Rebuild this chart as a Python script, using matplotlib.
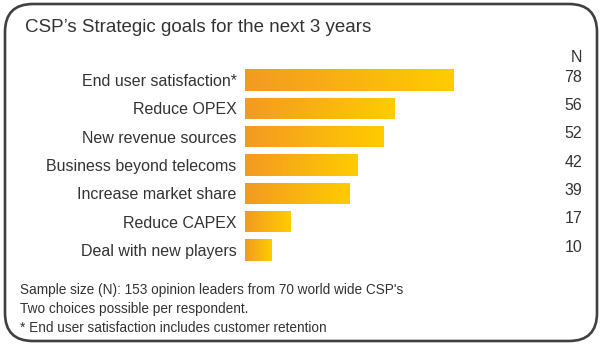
import matplotlib
matplotlib.use("Agg")
import matplotlib.pyplot as plt
import numpy as np
from matplotlib.colors import LinearSegmentedColormap
from matplotlib.patches import FancyBboxPatch
import matplotlib.transforms as mtransforms

goals = ["End user satisfaction*", "Reduce OPEX", "New revenue sources",
         "Business beyond telecoms", "Increase market share", "Reduce CAPEX",
         "Deal with new players"]
counts = [78, 56, 52, 42, 39, 17, 10]
notes = ["Sample size (N): 153 opinion leaders from 70 world wide CSP's",
         "Two choices possible per respondent.",
         "* End user satisfaction includes customer retention"]
title = "CSP\u2019s Strategic goals for the next 3 years"

plt.rcParams["font.family"] = ["Liberation Sans", "DejaVu Sans"]
txt_color = "#333333"

W, H = 601, 345
fig = plt.figure(figsize=(W / 100, H / 100), dpi=100)

# axes placed in pixel terms: x 0..100 -> 245..511.7 px, rows 28.33 px apart
row = 28.33
top_px = 80 - row / 2
bot_px = top_px + row * len(goals)
ax = fig.add_axes([245 / W, 1 - bot_px / H, 266.7 / W, (bot_px - top_px) / H])

cmap = LinearSegmentedColormap.from_list("orng", ["#F39A22", "#FFCC00"])
grad = np.linspace(0, 1, 256).reshape(1, -1)
ypos = np.arange(len(goals))
bars = ax.barh(ypos, counts, height=0.76, color="none", edgecolor="none")
for b in bars:
    x0, y0 = b.get_x(), b.get_y()
    im = ax.imshow(grad, cmap=cmap, aspect="auto", interpolation="bicubic",
                   extent=[x0, x0 + b.get_width(), y0 + b.get_height(), y0])
    im.set_clip_path(b)
ax.set_xlim(0, 100)
ax.set_ylim(len(goals) - 0.5, -0.5)

ax.set_yticks(ypos)
ax.set_yticklabels(goals, fontsize=11.5, color=txt_color)
ax.tick_params(axis="y", length=0, pad=6)
ax.set_xticks([])
for s in ax.spines.values():
    s.set_visible(False)

# N column on the right
tr = mtransforms.blended_transform_factory(fig.transFigure, ax.transData)
for y, c in zip(ypos, counts):
    ax.text(582 / W, y - 0.1, str(c), transform=tr, ha="right", va="center",
            fontsize=11.5, color=txt_color)
fig.text(582 / W, 1 - 58 / H, "N", ha="right", va="center", fontsize=11.5,
         color=txt_color)

fig.text(25 / W, 1 - 28 / H, title, ha="left", va="center", fontsize=13.5,
         color=txt_color)
for i, line in enumerate(notes):
    fig.text(20 / W, 1 - (290 + 19 * i) / H, line, ha="left", va="center",
             fontsize=9.8, color=txt_color)

# rounded frame
frame = FancyBboxPatch((5, 4), 592, 337, boxstyle="round,pad=0,rounding_size=28",
                       transform=mtransforms.IdentityTransform(),
                       facecolor="none", edgecolor="#404040", linewidth=1.9)
fig.patches.append(frame)

fig.savefig("out.png", dpi=100)
